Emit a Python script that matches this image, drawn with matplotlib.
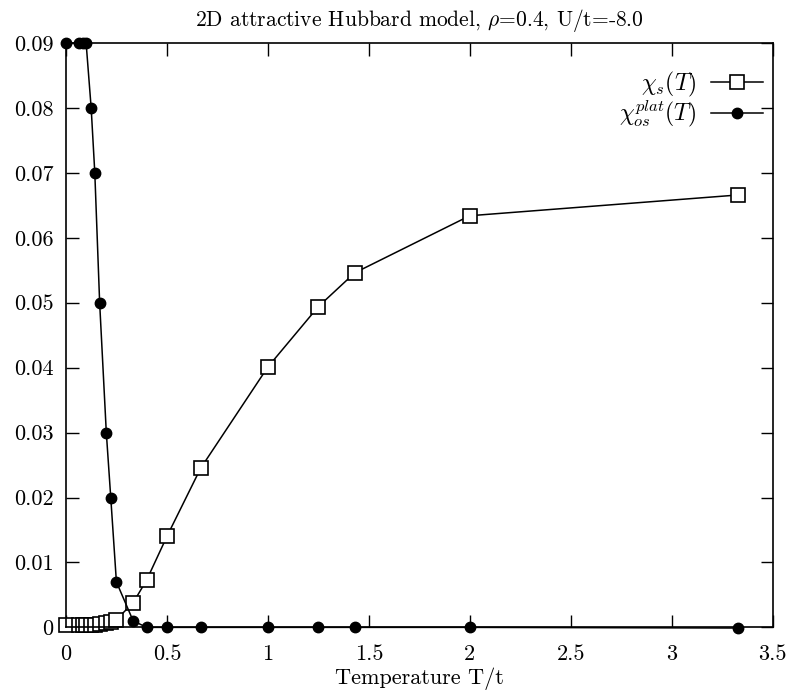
import numpy as np
import matplotlib
matplotlib.use("Agg")
import matplotlib.pyplot as plt
from matplotlib.ticker import FuncFormatter

plt.rcParams['font.family'] = ['cmr10', 'DejaVu Serif']
plt.rcParams['mathtext.fontset'] = 'cm'
plt.rcParams['axes.formatter.use_mathtext'] = True

# temperatures (T/t) of the simulation points
temps = [0.0, 0.0625, 0.0833, 0.1, 0.125, 0.143, 0.167, 0.2, 0.222, 0.25,
         0.333, 0.4, 0.5, 0.667, 1.0, 1.25, 1.43, 2.0, 3.33]

# s-wave pair susceptibility
chi_s = [0.0003, 0.0003, 0.0003, 0.0003, 0.0003, 0.0004, 0.0005, 0.0007, 0.0008, 0.0012,
         0.0038, 0.0073, 0.0140, 0.0245, 0.0401, 0.0494, 0.0546, 0.0634, 0.0666]

# plateau value of the off-diagonal susceptibility
chi_os = [0.09, 0.09, 0.09, 0.09, 0.08, 0.07, 0.05, 0.03, 0.02, 0.007,
          0.001, 0.0, 0.0, 0.0, 0.0, 0.0, 0.0, 0.0, -0.0001]

fig = plt.figure(figsize=(8.04, 6.94), dpi=100)
ax = fig.add_axes([0.082, 0.096, 0.879, 0.842])

ax.plot(temps, chi_s, color='black', lw=1.1, marker='s', ms=10,
        mfc='white', mec='black', mew=1.2, label=r'$\chi_s(T)$', clip_on=False)
ax.plot(temps, chi_os, color='black', lw=1.1, marker='o', ms=7.5,
        mfc='black', mec='black', label=r'$\chi_{os}^{plat}(T)$', clip_on=False)

ax.set_xlim(0, 3.5)
ax.set_ylim(0, 0.09)
ax.set_xticks(np.arange(0, 3.51, 0.5))
ax.set_yticks(np.arange(0, 0.091, 0.01))
fmt = FuncFormatter(lambda v, p: '%g' % round(v, 3))
ax.xaxis.set_major_formatter(fmt)
ax.yaxis.set_major_formatter(fmt)
ax.tick_params(direction='in', length=9, width=1, top=True, right=True,
               labelsize=16)
ax.tick_params(axis='x', pad=12)
ax.tick_params(axis='y', pad=9)

ax.set_xlabel('Temperature T/t', fontsize=16, labelpad=3)
ax.set_title(r'2D attractive Hubbard model, $\rho$=0.4, U/t=-8.0', fontsize=15.5, pad=12)

ax.legend(loc='upper right', frameon=False, markerfirst=False, fontsize=17,
          handlelength=2.2, handletextpad=0.6, borderaxespad=0.0, labelspacing=0.0,
          bbox_to_anchor=(1.0, 0.97))

for s in ax.spines.values():
    s.set_linewidth(1.2)

fig.savefig('out.png', dpi=100)
